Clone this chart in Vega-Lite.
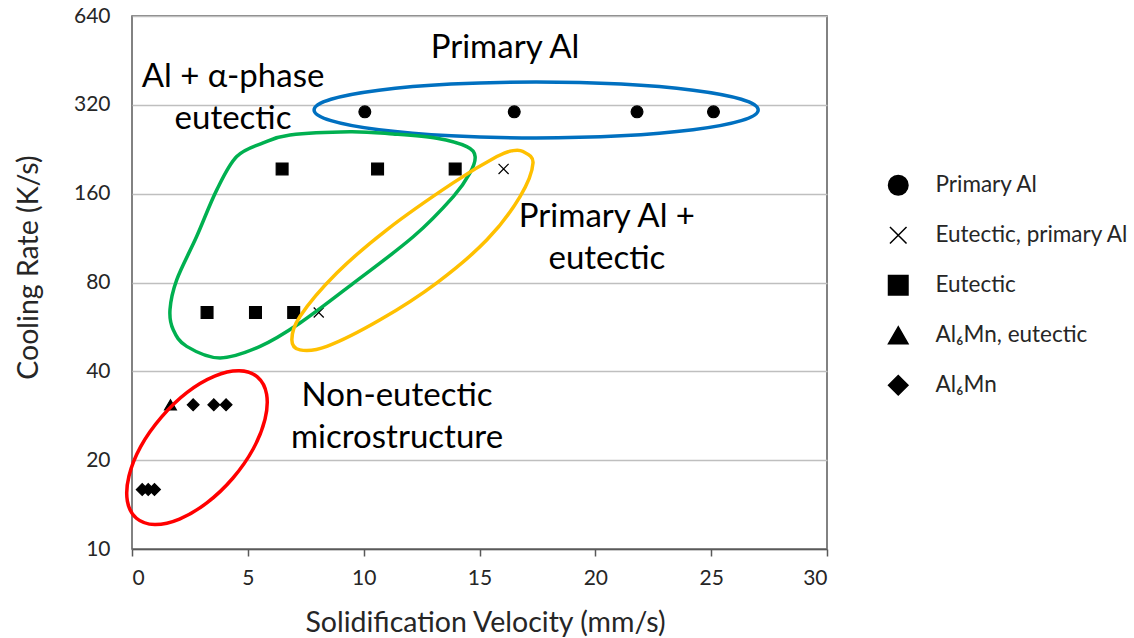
{
  "$schema": "https://vega.github.io/schema/vega-lite/v6.json",
  "width": 695,
  "height": 533,
  "autosize": {"type": "none"},
  "padding": {"left": 132, "top": 16, "right": 307, "bottom": 89},
  "background": "white",
  "config": {
    "font": "Lato",
    "view": {"stroke": "#595959", "strokeWidth": 1.5},
    "axis": {"labelFont": "Lato", "titleFont": "Lato", "labelColor": "#262626", "titleColor": "#262626", "titleFontWeight": "normal"}
  },
  "datasets": {
    "points": [
      {"v": 10.05, "r": 303, "type": "Primary Al"},
      {"v": 16.5, "r": 303, "type": "Primary Al"},
      {"v": 21.8, "r": 303, "type": "Primary Al"},
      {"v": 25.1, "r": 303, "type": "Primary Al"},
      {"v": 16.04, "r": 194, "type": "Eutectic, primary Al"},
      {"v": 8.06, "r": 63.3, "type": "Eutectic, primary Al"},
      {"v": 6.48, "r": 194, "type": "Eutectic"},
      {"v": 10.6, "r": 194, "type": "Eutectic"},
      {"v": 13.95, "r": 194, "type": "Eutectic"},
      {"v": 3.24, "r": 63.3, "type": "Eutectic"},
      {"v": 5.33, "r": 63.3, "type": "Eutectic"},
      {"v": 6.98, "r": 63.3, "type": "Eutectic"},
      {"v": 1.66, "r": 30.8, "type": "Al₆Mn, eutectic"},
      {"v": 2.64, "r": 30.8, "type": "Al₆Mn"},
      {"v": 3.53, "r": 30.8, "type": "Al₆Mn"},
      {"v": 4.06, "r": 30.8, "type": "Al₆Mn"},
      {"v": 0.44, "r": 15.9, "type": "Al₆Mn"},
      {"v": 0.70, "r": 15.9, "type": "Al₆Mn"},
      {"v": 0.97, "r": 15.9, "type": "Al₆Mn"}
    ],
    "outlines": [
      {"g": "blue", "i": 0, "v": 27.03, "r": 307.5},
      {"g": "blue", "i": 1, "v": 26.30, "r": 334.3},
      {"g": "blue", "i": 2, "v": 24.22, "r": 358.8},
      {"g": "blue", "i": 3, "v": 21.11, "r": 376.3},
      {"g": "blue", "i": 4, "v": 17.44, "r": 382.5},
      {"g": "blue", "i": 5, "v": 13.77, "r": 376.3},
      {"g": "blue", "i": 6, "v": 10.66, "r": 358.8},
      {"g": "blue", "i": 7, "v": 8.59, "r": 334.3},
      {"g": "blue", "i": 8, "v": 7.86, "r": 307.5},
      {"g": "blue", "i": 9, "v": 8.59, "r": 282.9},
      {"g": "blue", "i": 10, "v": 10.66, "r": 263.5},
      {"g": "blue", "i": 11, "v": 13.77, "r": 251.3},
      {"g": "blue", "i": 12, "v": 17.44, "r": 247.2},
      {"g": "blue", "i": 13, "v": 21.11, "r": 251.3},
      {"g": "blue", "i": 14, "v": 24.22, "r": 263.5},
      {"g": "blue", "i": 15, "v": 26.30, "r": 282.9},
      {"g": "green", "i": 0, "v": 9.41, "r": 259.6},
      {"g": "green", "i": 1, "v": 11.27, "r": 255.1},
      {"g": "green", "i": 2, "v": 13.16, "r": 246.6},
      {"g": "green", "i": 3, "v": 14.45, "r": 231.0},
      {"g": "green", "i": 4, "v": 14.81, "r": 213.7},
      {"g": "green", "i": 5, "v": 14.59, "r": 188.2},
      {"g": "green", "i": 6, "v": 13.87, "r": 156.4},
      {"g": "green", "i": 7, "v": 12.15, "r": 114.5},
      {"g": "green", "i": 8, "v": 9.56, "r": 79.6},
      {"g": "green", "i": 9, "v": 7.25, "r": 58.3},
      {"g": "green", "i": 10, "v": 5.53, "r": 48.6},
      {"g": "green", "i": 11, "v": 3.80, "r": 44.4},
      {"g": "green", "i": 12, "v": 2.36, "r": 48.6},
      {"g": "green", "i": 13, "v": 1.78, "r": 55.3},
      {"g": "green", "i": 14, "v": 1.64, "r": 64.7},
      {"g": "green", "i": 15, "v": 1.93, "r": 81.7},
      {"g": "green", "i": 16, "v": 2.79, "r": 114.5},
      {"g": "green", "i": 17, "v": 3.66, "r": 164.8},
      {"g": "green", "i": 18, "v": 4.52, "r": 213.7},
      {"g": "green", "i": 19, "v": 5.66, "r": 237.7},
      {"g": "green", "i": 20, "v": 6.82, "r": 253.0},
      {"g": "yellow", "i": 0, "v": 16.45, "r": 223.9},
      {"g": "yellow", "i": 1, "v": 16.88, "r": 222.2},
      {"g": "yellow", "i": 2, "v": 17.31, "r": 203.4},
      {"g": "yellow", "i": 3, "v": 16.75, "r": 156.4},
      {"g": "yellow", "i": 4, "v": 15.32, "r": 111.6},
      {"g": "yellow", "i": 5, "v": 13.16, "r": 79.8},
      {"g": "yellow", "i": 6, "v": 10.71, "r": 59.8},
      {"g": "yellow", "i": 7, "v": 8.41, "r": 48.6},
      {"g": "yellow", "i": 8, "v": 7.25, "r": 47.3},
      {"g": "yellow", "i": 9, "v": 6.90, "r": 51.2},
      {"g": "yellow", "i": 10, "v": 7.25, "r": 61.4},
      {"g": "yellow", "i": 11, "v": 8.84, "r": 86.1},
      {"g": "yellow", "i": 12, "v": 11.00, "r": 120.7},
      {"g": "yellow", "i": 13, "v": 13.86, "r": 174.0},
      {"g": "yellow", "i": 14, "v": 15.75, "r": 213.7},
      {"g": "red", "i": 0, "v": 5.42, "r": 38.23},
      {"g": "red", "i": 1, "v": 5.81, "r": 33.46},
      {"g": "red", "i": 2, "v": 5.74, "r": 27.49},
      {"g": "red", "i": 3, "v": 5.23, "r": 21.82},
      {"g": "red", "i": 4, "v": 4.35, "r": 17.37},
      {"g": "red", "i": 5, "v": 3.23, "r": 14.33},
      {"g": "red", "i": 6, "v": 2.05, "r": 12.63},
      {"g": "red", "i": 7, "v": 0.98, "r": 12.10},
      {"g": "red", "i": 8, "v": 0.19, "r": 12.71},
      {"g": "red", "i": 9, "v": -0.20, "r": 14.53},
      {"g": "red", "i": 10, "v": -0.13, "r": 17.68},
      {"g": "red", "i": 11, "v": 0.38, "r": 22.27},
      {"g": "red", "i": 12, "v": 1.27, "r": 27.98},
      {"g": "red", "i": 13, "v": 2.38, "r": 33.93},
      {"g": "red", "i": 14, "v": 3.57, "r": 38.51},
      {"g": "red", "i": 15, "v": 4.63, "r": 40.15}
    ],
    "labels": [
      {"v": 16.1, "r": 461.3, "label": "Primary Al"},
      {"v": 4.36, "r": 367.9, "label": "Al + α-phase\neutectic"},
      {"v": 20.5, "r": 123.8, "label": "Primary Al +\neutectic"},
      {"v": 11.44, "r": 30.6, "label": "Non-eutectic\nmicrostructure"}
    ]
  },
  "encoding": {
    "x": {
      "field": "v", "type": "quantitative",
      "scale": {"domain": [0, 30], "nice": false, "zero": false},
      "axis": {
        "title": "Solidification Velocity (mm/s)",
        "values": [0, 5, 10, 15, 20, 25, 30],
        "grid": false,
        "domainColor": "#595959", "domainWidth": 1.5,
        "tickColor": "#595959", "tickWidth": 1.5, "tickSize": 7,
        "labelFontSize": 21, "labelPadding": 11,
        "titleFontSize": 28.5, "titleX": 353, "titleY": 82, "titleBaseline": "alphabetic", "titleAnchor": null
      }
    },
    "y": {
      "field": "r", "type": "quantitative",
      "scale": {"type": "log", "base": 2, "domain": [10, 640], "nice": false},
      "axis": {
        "title": "Cooling Rate (K/s)",
        "values": [10, 20, 40, 80, 160, 320, 640],
        "format": "d",
        "domain": false, "ticks": false,
        "gridColor": "#bfbfbf", "gridWidth": 1.5,
        "labelFontSize": 21, "labelPadding": 22,
        "titleFontSize": 28.5, "titleX": -95, "titleY": 251, "titleBaseline": "alphabetic", "titleAngle": -90
      }
    }
  },
  "layer": [
    {
      "data": {"name": "points"},
      "mark": {"type": "point", "filled": true, "color": "black", "stroke": "black", "strokeWidth": 1.2, "opacity": 1, "size": 140},
      "encoding": {
        "shape": {
          "field": "type", "type": "nominal",
          "scale": {
            "domain": ["Primary Al", "Eutectic, primary Al", "Eutectic", "Al₆Mn, eutectic", "Al₆Mn"],
            "range": ["circle", "M-0.85,-0.85L0.85,0.85M-0.85,0.85L0.85,-0.85", "square", "triangle-up", "diamond"]
          },
          "legend": {
            "title": null,
            "orient": "none",
            "legendX": 755,
            "legendY": 158,
            "padding": 0,
            "symbolSize": 380,
            "labelFontSize": 22.5,
            "labelFont": "Lato",
            "labelColor": "#262626",
            "labelOffset": 26,
            "rowPadding": 25,
            "labelLimit": 300,
            "encode": {
              "symbols": {
                "update": {
                  "fill": {"value": "black"},
                  "stroke": {"value": "black"},
                  "strokeWidth": {"value": 1.6},
                  "opacity": {"value": 1}
                }
              }
            }
          }
        }
      }
    },
    {
      "data": {"name": "outlines"},
      "mark": {"type": "line", "interpolate": "cardinal-closed", "strokeWidth": 3.5},
      "encoding": {
        "order": {"field": "i", "type": "quantitative"},
        "detail": {"field": "g", "type": "nominal"},
        "color": {
          "field": "g", "type": "nominal",
          "scale": {"domain": ["blue", "green", "yellow", "red"], "range": ["#0070C0", "#00B050", "#FFC000", "#FF0000"]},
          "legend": null
        }
      }
    },
    {
      "data": {"name": "labels"},
      "mark": {"type": "text", "font": "Lato", "fontSize": 33, "align": "center", "baseline": "alphabetic", "lineBreak": "\n", "lineHeight": 42.5, "color": "black"},
      "encoding": {
        "text": {"field": "label", "type": "nominal"}
      }
    }
  ]
}
